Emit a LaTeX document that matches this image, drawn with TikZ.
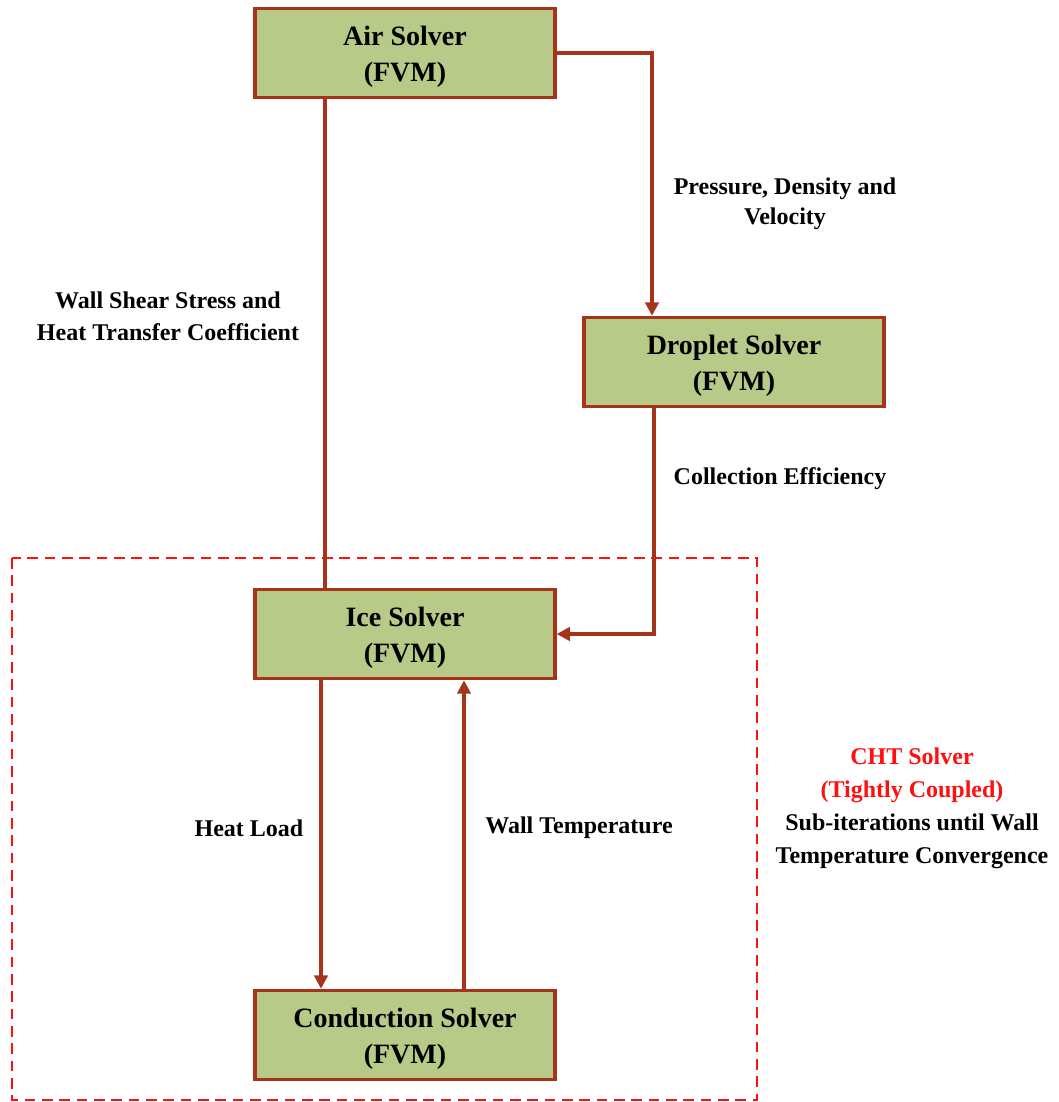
\documentclass[tikz,border=0pt]{standalone}
\usepackage{fontspec}
\setmainfont{Liberation Serif}
\usetikzlibrary{arrows.meta}
\definecolor{boxfill}{HTML}{B8CA88}
\definecolor{boxline}{HTML}{A5341A}
\definecolor{chtred}{HTML}{FF1010}
\tikzset{
  solver/.style={draw=boxline, line width=2.4pt, fill=boxfill, minimum width=225pt, minimum height=67pt,
    align=center, inner sep=0pt, font=\bfseries\fontsize{21}{27}\selectfont},
  link/.style={draw=boxline, line width=2.4pt},
  linkarrow/.style={link, -{Triangle[length=10pt,width=10pt]}},
  lbl/.style={align=center, font=\bfseries\fontsize{18}{24}\selectfont, inner sep=0pt},
}
\begin{document}
\begin{tikzpicture}[x=0.75pt,y=-0.75pt]
\useasboundingbox (0,0) rectangle (1059,1102);
% CHT dashed region
\draw[chtred, line width=2pt, dash pattern=on 8pt off 5pt] (12,558) rectangle (757,1100);
% solvers
\node[solver] (air) at (405,53) {\rule{0pt}{20pt}Air Solver\\(FVM)};
\node[solver] (drop) at (734,362) {\rule{0pt}{20pt}Droplet Solver\\(FVM)};
\node[solver] (ice) at (405,634) {\rule{0pt}{20pt}Ice Solver\\(FVM)};
\node[solver] (cond) at (405,1035) {\rule{0pt}{20pt}Conduction Solver\\(FVM)};
% connectors
\draw[linkarrow] (air.east) -| ([xshift=-61.5pt]drop.north);
\draw[link] ([xshift=-60pt]air.south) -- ([xshift=-60pt]ice.north);
\draw[linkarrow] ([xshift=-60pt]drop.south) |- (ice.east);
\draw[linkarrow] ([xshift=-63pt]ice.south) -- ([xshift=-63pt]cond.north);
\draw[linkarrow] ([xshift=44.25pt]cond.north) -- ([xshift=44.25pt]ice.south);
% labels
\node[lbl, font=\bfseries\fontsize{18}{22.5}\selectfont] (lp) at (785,204) {Pressure, Density and\\Velocity};
\node[lbl] (lw) at (168,316) {Wall Shear Stress and\\Heat Transfer Coefficient};
\node[lbl] (lc) at (780,479) {Collection Efficiency};
\node[lbl] (lh) at (249,828) {Heat Load};
\node[lbl] (lt) at (579,828) {Wall Temperature};
\node[lbl, font=\bfseries\fontsize{18}{24.75}\selectfont] (lcht) at (912,808)
  {\textcolor{chtred}{CHT Solver}\\\textcolor{chtred}{(Tightly Coupled)}\\Sub-iterations until Wall\\Temperature Convergence};
\end{tikzpicture}
\end{document}
